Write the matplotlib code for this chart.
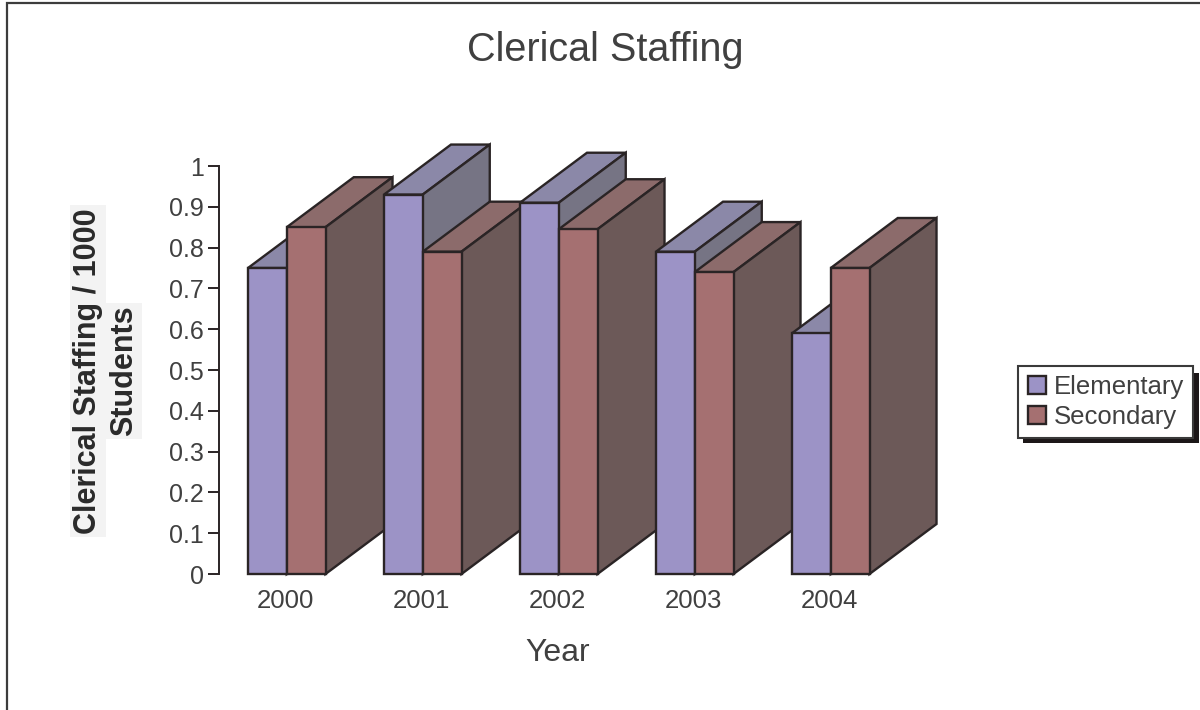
import matplotlib
matplotlib.use('Agg')
import matplotlib.pyplot as plt
from matplotlib.patches import Patch, Polygon, Rectangle

years = ['2000', '2001', '2002', '2003', '2004']
elementary = [0.75, 0.93, 0.91, 0.79, 0.59]
secondary = [0.85, 0.79, 0.845, 0.74, 0.75]
y_ticks = [0, 0.1, 0.2, 0.3, 0.4, 0.5, 0.6, 0.7, 0.8, 0.9, 1]
y_tick_labels = ['0', '0.1', '0.2', '0.3', '0.4', '0.5', '0.6', '0.7', '0.8', '0.9', '1']

W, H = 1200, 710
EDGE = '#2a2425'
TEXT = '#404040'
ELEM = {'front': '#9c93c6', 'top': '#8b88a8', 'side': '#767484'}
SEC = {'front': '#a57071', 'top': '#8c6b6b', 'side': '#6c5958'}

BAR_W = 0.285
DEPTH_X = 67 / 136
DEPTH_Y = 50 / 408

plt.rcParams['font.family'] = ['Liberation Sans', 'DejaVu Sans']

fig = plt.figure(figsize=(W / 100, H / 100), dpi=100)

# axes box in pixels: y axis at x=219, value 0 at y=574, value 1 at y=166
left, right, bottom = 219, 960, 574
top = bottom - 408 * 1.2
ax = fig.add_axes([left / W, 1 - bottom / H, (right - left) / W, (bottom - top) / H])
ax.patch.set_visible(False)
ax.set_xlim((left - 248) / 136, (right - 248) / 136)
ax.set_ylim(0, 1.2)


def bar3d(x, val, colors):
    x2 = x + BAR_W
    top_face = [(x, val), (x2, val), (x2 + DEPTH_X, val + DEPTH_Y), (x + DEPTH_X, val + DEPTH_Y)]
    side_face = [(x2, 0), (x2 + DEPTH_X, DEPTH_Y), (x2 + DEPTH_X, val + DEPTH_Y), (x2, val)]
    front_face = [(x, 0), (x2, 0), (x2, val), (x, val)]
    for pts, key in [(top_face, 'top'), (side_face, 'side'), (front_face, 'front')]:
        ax.add_patch(Polygon(pts, closed=True, facecolor=colors[key], edgecolor=EDGE,
                             linewidth=1.7, joinstyle='miter', clip_on=False))


for i in range(len(years)):
    bar3d(i, elementary[i], ELEM)
    bar3d(i + BAR_W, secondary[i], SEC)

for s in ['top', 'right', 'bottom']:
    ax.spines[s].set_visible(False)
ax.spines['left'].set_bounds(0, 1)
ax.spines['left'].set_color(EDGE)
ax.spines['left'].set_linewidth(1.4)

ax.set_yticks(y_ticks)
ax.set_yticklabels(y_tick_labels, fontsize=18, color=TEXT)
ax.tick_params(axis='y', length=8, width=1.4, color=EDGE, pad=3)
ax.set_xticks([i + BAR_W - 0.01 for i in range(len(years))])
ax.set_xticklabels(years, fontsize=18.5, color=TEXT)
ax.tick_params(axis='x', length=0, pad=11)

ax.set_xlabel('Year', fontsize=23, color=TEXT)
ax.xaxis.set_label_coords((558 - left) / (right - left), -(638 - bottom) / (bottom - top))

fig.text(605 / W, 1 - 50 / H, 'Clerical Staffing', fontsize=28.5, color=TEXT, ha='center', va='center')

# y label, each line has its own pale box in the reference
lab_box = dict(facecolor='#f3f3f3', edgecolor='none', pad=2)
fig.text(88 / W, 1 - 371 / H, 'Clerical Staffing / 1000', rotation=90, fontsize=22, fontweight='bold',
         color='#2a2a2a', ha='center', va='center', bbox=lab_box)
fig.text(124 / W, 1 - 371 / H, 'Students', rotation=90, fontsize=22, fontweight='bold',
         color='#2a2a2a', ha='center', va='center', bbox=lab_box)

# outer frame runs off the right and bottom of the picture
fig.add_artist(Rectangle((7 / W, -0.05), 1.1, 1.05 - 3 / H, transform=fig.transFigure,
                         facecolor='none', edgecolor='#3c3c3c', linewidth=1.6))

# hard legend shadow sits under the legend box
shadow = Rectangle((1023 / W, 1 - 443 / H), 176 / W, 70 / H, transform=fig.transFigure,
                   facecolor='#1c1718', edgecolor='none', zorder=-1)
fig.add_artist(shadow)

handles = [Patch(facecolor=ELEM['front'], edgecolor=EDGE, linewidth=1.7, label='Elementary'),
           Patch(facecolor=SEC['front'], edgecolor=EDGE, linewidth=1.7, label='Secondary')]
leg = ax.legend(handles=handles, loc='center left', bbox_to_anchor=(1018 / W, 1 - 402 / H),
                bbox_transform=fig.transFigure, fontsize=18.5, frameon=True, fancybox=False,
                framealpha=1, edgecolor='#3a3a3a', handlelength=0.7, handleheight=0.7,
                handletextpad=0.3, labelspacing=0.2, borderpad=0.38, borderaxespad=0, labelcolor=TEXT)
leg.get_frame().set_linewidth(1.5)

fig.savefig('out.png', dpi=100)
